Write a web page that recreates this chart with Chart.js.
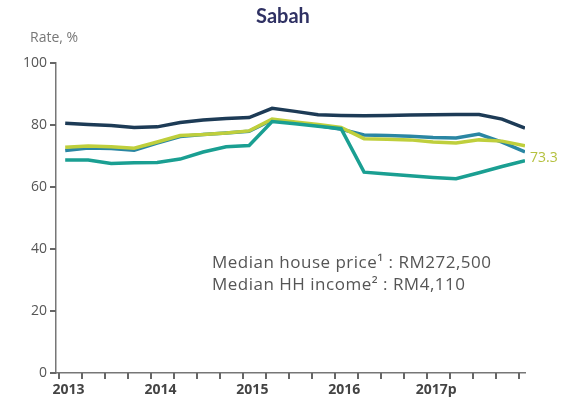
<!DOCTYPE html>
<html lang="en">
<head>
  <meta charset="UTF-8">
  <title>Sabah</title>
  <script src="https://cdn.jsdelivr.net/npm/chart.js"></script>
  <style>
    html, body { margin: 0; padding: 0; background: #fff; }
    #wrap { width: 567px; height: 406px; position: relative; }
  </style>
</head>
<body>
  <div id="wrap"><canvas id="sabahChart"></canvas></div>

  <script>
    // --- DATA (quarterly, 2013 to end of 2017p) ---
    const quarters = [0, 1, 2, 3, 4, 5, 6, 7, 8, 9, 10, 11, 12, 13, 14, 15, 16, 17, 18, 19, 20];
    const yearLabels = ['2013', '2014', '2015', '2016', '2017p'];
    const yTicks = [0, 20, 40, 60, 80, 100];

    const navySeries = [80.6, 80.2, 79.8, 79.2, 79.4, 80.8, 81.6, 82.1, 82.4, 85.4, 84.4, 83.3, 83.1, 83.0, 83.1, 83.2, 83.3, 83.4, 83.4, 81.9, 79.0];
    const limeSeries = [72.8, 73.2, 73.0, 72.5, 74.5, 76.6, 76.9, 77.4, 78.1, 81.9, 81.0, 80.2, 79.2, 75.6, 75.4, 75.2, 74.5, 74.2, 75.2, 74.8, 73.3];
    const blueSeries = [71.8, 72.6, 72.4, 71.9, 74.2, 76.3, 76.9, 77.4, 78.0, 81.6, 80.7, 79.8, 78.6, 76.8, 76.6, 76.4, 76.0, 75.8, 77.1, 74.5, 71.3];
    const tealSeries = [68.7, 68.7, 67.6, 67.8, 67.9, 69.0, 71.3, 73.0, 73.4, 81.1, 80.4, 79.6, 78.8, 64.8, 64.2, 63.6, 63.1, 62.7, 64.6, 66.6, 68.5];

    const endLabel = '73.3';
    const noteLines = ['Median house price\u00B9 : RM272,500', 'Median HH income\u00B2 : RM4,110'];

    const toPoints = (arr) => arr.map((v, i) => ({ x: quarters[i], y: v }));

    // --- TEXT + TICK MARKS ---
    const textPlugin = {
      id: 'textPlugin',
      afterDraw(chart) {
        const ctx = chart.ctx;
        const area = chart.chartArea;
        const xs = chart.scales.x;
        const ys = chart.scales.y;
        ctx.save();

        // small tick marks on both axes
        ctx.fillStyle = '#666';
        quarters.forEach(q => {
          const px = Math.round(xs.getPixelForValue(q - 0.25));
          ctx.fillRect(px - 1, area.bottom, 2, 6);
        });
        yTicks.forEach(v => {
          const py = Math.round(ys.getPixelForValue(v));
          ctx.fillRect(area.left - 6, py - 1, 6, 2);
        });

        ctx.textBaseline = 'middle';
        ctx.fillStyle = '#2f3163';
        ctx.font = 'bold 20px Lato';
        ctx.textAlign = 'center';
        ctx.fillText('Sabah', 283, 17);

        ctx.fillStyle = '#777';
        ctx.font = '14px "Open Sans"';
        ctx.textAlign = 'left';
        ctx.fillText('Rate, %', 30, 38);

        ctx.fillStyle = '#555';
        ctx.font = '17px "Open Sans"';
        ctx.letterSpacing = '0.5px';
        ctx.fillText(noteLines[0], 212, 263);
        ctx.fillText(noteLines[1], 212, 285);
        ctx.letterSpacing = '0px';

        // end value for the lime series
        const meta = chart.getDatasetMeta(1);
        const last = meta.data[meta.data.length - 1];
        ctx.fillStyle = '#b5c13f';
        ctx.font = '14px "Open Sans"';
        ctx.fillText(endLabel, last.x + 5, last.y + 12);
        ctx.restore();
      }
    };

    const lineDs = (label, data, color) => ({
      label: label,
      data: toPoints(data),
      borderColor: color,
      borderWidth: 3.5,
      pointRadius: 0,
      tension: 0,
      fill: false
    });

    new Chart(document.getElementById('sabahChart'), {
      type: 'line',
      data: {
        datasets: [
          lineDs('Teal', tealSeries, '#1a9f92'),
          lineDs('Lime', limeSeries, '#bfcf3c'),
          lineDs('Blue', blueSeries, '#2a86a3'),
          lineDs('Navy', navySeries, '#1d3b56')
        ]
      },
      options: {
        responsive: true,
        maintainAspectRatio: false,
        animation: false,
        layout: { padding: { top: 63, right: 42, left: 0, bottom: 0 } },
        plugins: { legend: { display: false }, tooltip: { enabled: false } },
        scales: {
          x: {
            type: 'linear',
            min: -0.4,
            max: 20,
            afterBuildTicks: (scale) => {
              scale.ticks = quarters.map(q => ({ value: q - 0.25 }));
            },
            afterFit: (scale) => { scale.height = 33; },
            border: { color: '#777', width: 1.5 },
            grid: { drawOnChartArea: false, tickLength: 6, color: 'rgba(0,0,0,0)' },
            ticks: {
              autoSkip: false,
              maxRotation: 0,
              labelOffset: 9,
              padding: 3,
              color: '#444',
              font: { family: 'Open Sans', size: 14, weight: 'bold' },
              callback: (v) => {
                const q = Math.round(v + 0.25);
                return q % 4 === 0 ? yearLabels[q / 4] : '';
              }
            }
          },
          y: {
            min: 0,
            max: 100,
            afterBuildTicks: (scale) => {
              scale.ticks = yTicks.map(v => ({ value: v }));
            },
            afterFit: (scale) => { scale.width = 56; },
            border: { color: '#777', width: 1.5 },
            grid: { drawOnChartArea: false, tickLength: 6, color: 'rgba(0,0,0,0)' },
            ticks: {
              padding: 3,
              color: '#555',
              font: { family: 'Open Sans', size: 14 }
            }
          }
        }
      },
      plugins: [textPlugin]
    });
  </script>
</body>
</html>
